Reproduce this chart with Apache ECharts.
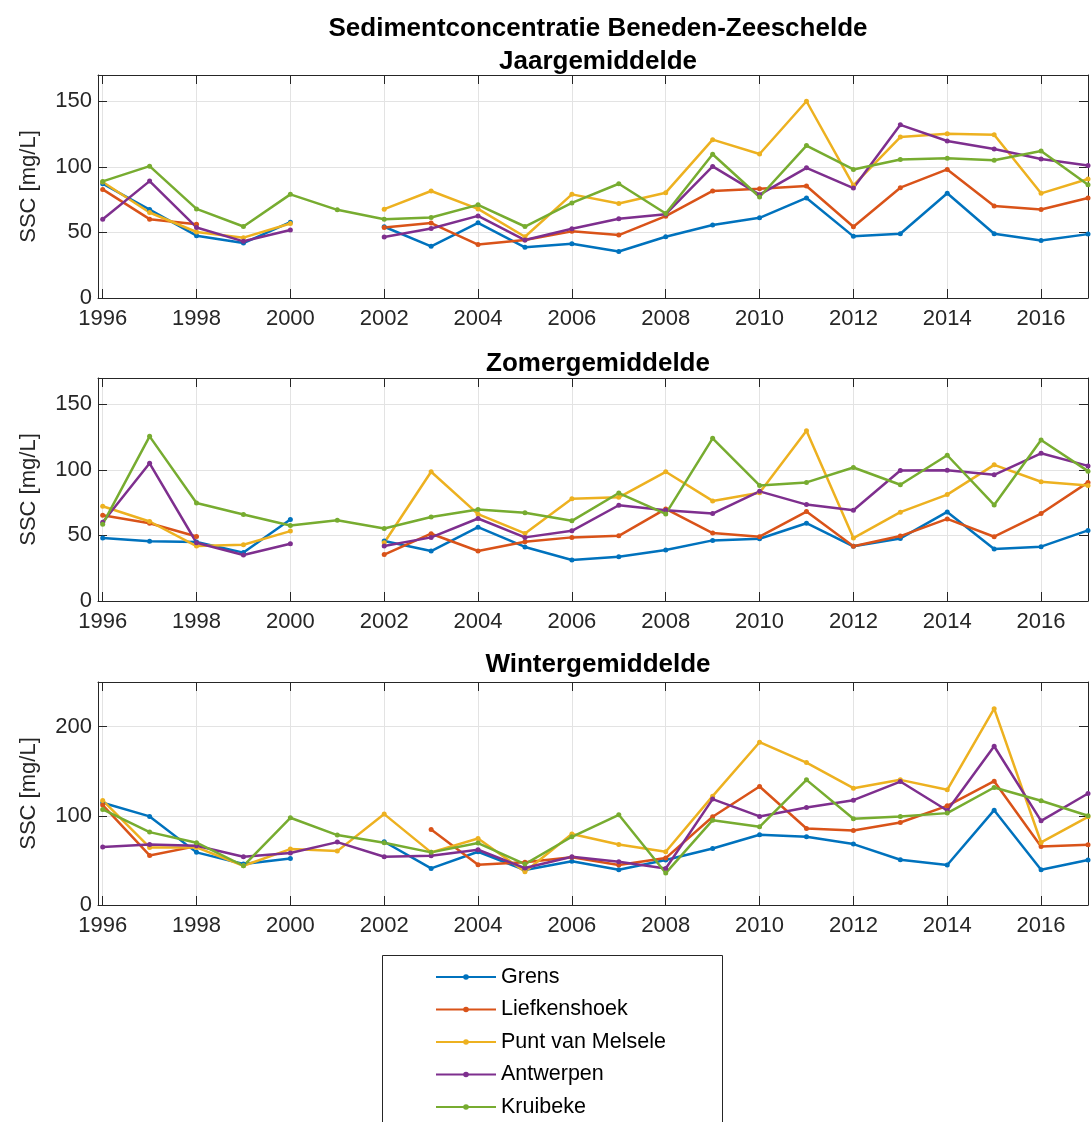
<!DOCTYPE html>
<html>
<head>
<meta charset="utf-8">
<title>Sedimentconcentratie Beneden-Zeeschelde</title>
<script src="https://cdn.jsdelivr.net/npm/echarts@6/dist/echarts.min.js"></script>
<style>
  html, body { margin: 0; padding: 0; background: #ffffff; }
  #chart { width: 1091px; height: 1122px; }
</style>
</head>
<body>
<div id="chart"></div>
<script>
// Measuring years
const years = [1996, 1997, 1998, 1999, 2000, 2001, 2002, 2003, 2004, 2005, 2006,
               2007, 2008, 2009, 2010, 2011, 2012, 2013, 2014, 2015, 2016, 2017];
const yearTicks = [1996, 1998, 2000, 2002, 2004, 2006, 2008, 2010, 2012, 2014, 2016];

const stations = ['Grens', 'Liefkenshoek', 'Punt van Melsele', 'Antwerpen', 'Kruibeke'];
const stationColors = ['#0072BD', '#D95319', '#EDB120', '#7E2F8E', '#77AC30'];

// Annual mean SSC [mg/L] (null = no measurement)
const jaarGrens = [87.1, 67.4, 47.5, 41.9, 57.8, null, 54.3, 39.4, 57.3, 38.6, 41.4, 35.4, 46.7, 55.6, 61.1, 76.3, 47.0, 49.0, 79.8, 49.0, 43.9, 48.7];
const jaarLiefkenshoek = [82.8, 60.1, 56.3, null, null, null, 53.8, 57.1, 40.7, 44.2, 50.8, 48.0, 62.4, 81.6, 83.3, 85.4, 54.3, 84.1, 98.0, 70.2, 67.4, 76.3];
const jaarPuntVanMelsele = [88.4, 65.2, 50.3, 46.0, 56.8, null, 67.7, 81.6, 67.9, 46.7, 79.0, 72.0, 80.3, 120.7, 109.8, 150.0, 85.9, 122.7, 125.3, 124.5, 79.8, 90.7];
const jaarAntwerpen = [60.1, 89.1, 53.8, 43.2, 51.8, null, 46.5, 53.0, 62.6, 44.2, 52.8, 60.4, 63.9, 100.3, 78.8, 99.2, 83.8, 132.0, 119.7, 113.6, 106.0, 101.0];
const jaarKruibeke = [88.9, 100.5, 67.9, 54.5, 79.0, 67.2, 60.1, 61.4, 71.0, 54.5, 72.5, 87.1, 64.4, 109.6, 77.0, 116.2, 98.0, 105.6, 106.6, 105.0, 112.1, 86.4];

// Summer mean SSC [mg/L]
const zomerGrens = [48.0, 45.5, 45.0, 36.9, 62.1, null, 45.7, 38.1, 56.3, 41.2, 31.3, 33.8, 38.9, 46.2, 47.5, 59.3, 41.7, 47.7, 67.9, 39.6, 41.4, 53.8];
const zomerLiefkenshoek = [65.4, 59.3, 49.2, null, null, null, 35.4, 51.3, 38.1, 45.2, 48.5, 49.7, 70.2, 51.8, 49.0, 68.2, 41.7, 49.5, 62.6, 49.0, 66.7, 90.4];
const zomerPuntVanMelsele = [72.2, 60.6, 41.9, 42.9, 53.3, null, 44.4, 98.5, 66.2, 51.5, 78.0, 79.0, 98.5, 76.3, 82.6, 129.8, 48.0, 67.7, 81.1, 103.8, 90.9, 88.1];
const zomerAntwerpen = [60.0, 105.0, 44.4, 35.1, 43.7, null, 41.9, 48.5, 62.9, 48.5, 53.5, 73.0, 69.2, 66.7, 83.6, 73.5, 69.2, 99.5, 99.7, 96.2, 112.6, 103.0];
const zomerKruibeke = [58.6, 125.5, 74.7, 65.9, 57.6, 61.6, 55.3, 64.1, 69.7, 67.2, 61.1, 82.3, 66.4, 124.0, 88.1, 90.4, 101.8, 88.6, 111.1, 73.2, 122.7, 99.0];

// Winter mean SSC [mg/L]
const winterGrens = [114.6, 99.3, 59.0, 45.9, 52.2, null, 70.9, 41.0, 59.7, 39.2, 49.0, 39.6, 50.4, 63.4, 78.7, 76.5, 68.3, 50.7, 44.8, 106.3, 39.6, 50.4];
const winterLiefkenshoek = [112.0, 55.6, 66.0, null, null, null, null, 84.7, 45.1, 47.8, 53.4, 44.8, 52.6, 98.9, 132.8, 85.8, 83.6, 92.5, 111.2, 138.8, 65.7, 67.5];
const winterPuntVanMelsele = [117.2, 64.6, 64.6, 44.0, 62.7, 60.4, 101.9, 59.0, 74.6, 37.3, 79.5, 67.9, 59.7, 122.0, 182.5, 159.7, 131.0, 140.3, 129.1, 220.1, 70.1, 98.9];
const winterAntwerpen = [65.0, 67.9, 66.4, 54.1, 58.2, 70.5, 54.1, 55.2, 61.9, 41.4, 54.1, 48.5, 41.0, 118.7, 99.3, 109.3, 117.5, 138.4, 106.0, 178.0, 94.4, 125.0];
const winterKruibeke = [107.1, 81.7, 69.8, 44.0, 97.8, 78.4, 69.8, 59.0, 69.4, 45.9, 76.5, 101.1, 35.8, 95.1, 87.7, 140.3, 96.6, 99.3, 103.0, 131.7, 116.8, 100.0];

const panelTitles = ['Jaargemiddelde', 'Zomergemiddelde', 'Wintergemiddelde'];
const panelSeries = [
  [jaarGrens, jaarLiefkenshoek, jaarPuntVanMelsele, jaarAntwerpen, jaarKruibeke],
  [zomerGrens, zomerLiefkenshoek, zomerPuntVanMelsele, zomerAntwerpen, zomerKruibeke],
  [winterGrens, winterLiefkenshoek, winterPuntVanMelsele, winterAntwerpen, winterKruibeke]
];
const panelYMax = [170, 170, 250];
const panelYStep = [50, 50, 100];

// Layout of the three stacked axes
const FONT = "'Liberation Sans', Arial, Helvetica, sans-serif";
const AXIS_COLOR = '#262626';
const GRID_COLOR = '#e3e3e3';
const plotLeft = 98;
const plotWidth = 990;
const panelTops = [75, 378, 682];
const panelHeight = 223;
const titleTops = [44, 346, 647];

const grids = [];
const xAxes = [];
const yAxes = [];
const series = [];
const titles = [{
  text: 'Sedimentconcentratie Beneden-Zeeschelde',
  left: plotLeft + plotWidth / 2,
  top: 11,
  textAlign: 'center',
  textStyle: { fontFamily: FONT, fontSize: 26, fontWeight: 'bold', color: '#000000' }
}];

panelTitles.forEach(function (name, p) {
  grids.push({ left: plotLeft, top: panelTops[p], width: plotWidth, height: panelHeight });
  titles.push({
    text: name,
    left: plotLeft + plotWidth / 2,
    top: titleTops[p],
    textAlign: 'center',
    textStyle: { fontFamily: FONT, fontSize: 26, fontWeight: 'bold', color: '#000000' }
  });

  // bottom axis with year labels and vertical grid lines
  xAxes.push({
    type: 'value', gridIndex: p, position: 'bottom',
    min: 1995.9, max: 2017,
    axisLine: { show: true, onZero: false, lineStyle: { color: AXIS_COLOR, width: 1 } },
    axisTick: { show: true, inside: true, length: 9, customValues: yearTicks, lineStyle: { color: AXIS_COLOR } },
    axisLabel: {
      show: true, customValues: yearTicks, margin: 10,
      formatter: function (v) { return String(v); },
      fontFamily: FONT, fontSize: 22, color: AXIS_COLOR
    },
    splitLine: { show: true, lineStyle: { color: GRID_COLOR, width: 1 } }
  });
  // top box edge with inward ticks
  xAxes.push({
    type: 'value', gridIndex: p, position: 'top',
    min: 1995.9, max: 2017,
    axisLine: { show: true, onZero: false, lineStyle: { color: AXIS_COLOR, width: 1 } },
    axisTick: { show: true, inside: true, length: 9, customValues: yearTicks, lineStyle: { color: AXIS_COLOR } },
    axisLabel: { show: false, customValues: yearTicks },
    splitLine: { show: false }
  });

  // left axis with labels and horizontal grid lines
  yAxes.push({
    type: 'value', gridIndex: p, position: 'left',
    min: 0, max: panelYMax[p], interval: panelYStep[p],
    name: 'SSC [mg/L]', nameLocation: 'middle', nameGap: 58, nameRotate: 90,
    nameTextStyle: { fontFamily: FONT, fontSize: 22, color: AXIS_COLOR },
    axisLine: { show: true, onZero: false, lineStyle: { color: AXIS_COLOR, width: 1 } },
    axisTick: { show: true, inside: true, length: 9, lineStyle: { color: AXIS_COLOR } },
    axisLabel: { show: true, margin: 6, fontFamily: FONT, fontSize: 22, color: AXIS_COLOR, showMaxLabel: false },
    splitLine: { show: true, lineStyle: { color: GRID_COLOR, width: 1 } }
  });
  // right box edge with inward ticks
  yAxes.push({
    type: 'value', gridIndex: p, position: 'right',
    min: 0, max: panelYMax[p], interval: panelYStep[p],
    axisLine: { show: true, onZero: false, lineStyle: { color: AXIS_COLOR, width: 1 } },
    axisTick: { show: true, inside: true, length: 9, lineStyle: { color: AXIS_COLOR } },
    axisLabel: { show: false },
    splitLine: { show: false }
  });

  panelSeries[p].forEach(function (values, s) {
    series.push({
      name: stations[s],
      type: 'line',
      xAxisIndex: p * 2,
      yAxisIndex: p * 2,
      data: years.map(function (y, i) { return [y, values[i]]; }),
      connectNulls: false,
      symbol: 'circle',
      symbolSize: 5,
      showAllSymbol: true,
      itemStyle: { color: stationColors[s] },
      lineStyle: { color: stationColors[s], width: 2.5 },
      emphasis: { disabled: true },
      animation: false
    });
  });
});

const chart = echarts.init(document.getElementById('chart'), null, { renderer: 'canvas' });
chart.setOption({
  backgroundColor: '#ffffff',
  animation: false,
  title: titles,
  grid: grids,
  xAxis: xAxes,
  yAxis: yAxes,
  series: series,
  legend: {
    data: stations,
    orient: 'vertical',
    left: 435,
    top: 966,
    padding: 0,
    itemWidth: 60,
    itemHeight: 7,
    itemGap: 10.5,
    itemStyle: { borderWidth: 0 },
    selectedMode: false,
    textStyle: { fontFamily: FONT, fontSize: 21.5, color: '#000000', lineHeight: 22 }
  },
  graphic: [{
    type: 'rect',
    left: 382,
    top: 955,
    z: -1,
    shape: { width: 340, height: 200 },
    style: { fill: '#ffffff', stroke: '#262626', lineWidth: 1 }
  }]
});
</script>
</body>
</html>
